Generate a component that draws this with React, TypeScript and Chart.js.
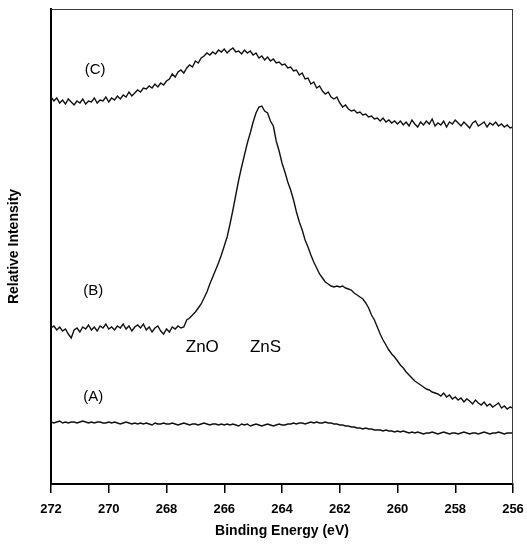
import React, { useEffect, useRef } from "react";
import { Chart, registerables } from "chart.js";

Chart.register(...registerables);

// Binding energy grid (eV), 0.1 eV steps
const energy = [
  272.0, 271.9, 271.8, 271.7, 271.6, 271.5, 271.4, 271.3, 271.2, 271.1,
  271.0, 270.9, 270.8, 270.7, 270.6, 270.5, 270.4, 270.3, 270.2, 270.1,
  270.0, 269.9, 269.8, 269.7, 269.6, 269.5, 269.4, 269.3, 269.2, 269.1,
  269.0, 268.9, 268.8, 268.7, 268.6, 268.5, 268.4, 268.3, 268.2, 268.1,
  268.0, 267.9, 267.8, 267.7, 267.6, 267.5, 267.4, 267.3, 267.2, 267.1,
  267.0, 266.9, 266.8, 266.7, 266.6, 266.5, 266.4, 266.3, 266.2, 266.1,
  266.0, 265.9, 265.8, 265.7, 265.6, 265.5, 265.4, 265.3, 265.2, 265.1,
  265.0, 264.9, 264.8, 264.7, 264.6, 264.5, 264.4, 264.3, 264.2, 264.1,
  264.0, 263.9, 263.8, 263.7, 263.6, 263.5, 263.4, 263.3, 263.2, 263.1,
  263.0, 262.9, 262.8, 262.7, 262.6, 262.5, 262.4, 262.3, 262.2, 262.1,
  262.0, 261.9, 261.8, 261.7, 261.6, 261.5, 261.4, 261.3, 261.2, 261.1,
  261.0, 260.9, 260.8, 260.7, 260.6, 260.5, 260.4, 260.3, 260.2, 260.1,
  260.0, 259.9, 259.8, 259.7, 259.6, 259.5, 259.4, 259.3, 259.2, 259.1,
  259.0, 258.9, 258.8, 258.7, 258.6, 258.5, 258.4, 258.3, 258.2, 258.1,
  258.0, 257.9, 257.8, 257.7, 257.6, 257.5, 257.4, 257.3, 257.2, 257.1,
  257.0, 256.9, 256.8, 256.7, 256.6, 256.5, 256.4, 256.3, 256.2, 256.1,
  256.0,
];

// Spectrum (C), offset trace
const spectrumC = [
  387, 383, 386, 381, 384, 380, 385, 382, 379, 383,
  381, 385, 380, 383, 382, 386, 381, 384, 383, 387,
  382, 386, 384, 388, 385, 389, 387, 392, 388, 391,
  394, 392, 396, 395, 398, 396, 400, 397, 401, 399,
  403, 405, 410, 407, 412, 414, 411, 416, 419, 417,
  423, 421, 426, 428, 431, 429, 432, 430, 434, 432,
  435, 431, 434, 436, 432, 433, 430, 434, 431, 433,
  429, 431, 426, 428, 424, 427, 423, 425, 421, 422,
  419, 420, 416, 417, 413, 414, 409, 411, 405, 406,
  400, 402, 396, 398, 393, 390, 392, 387, 385, 387,
  381, 377, 379, 375, 373, 374, 371, 372, 369, 370,
  367, 368, 365, 366, 363, 366, 362, 364, 361, 363,
  360, 363, 359, 362, 358, 364, 360, 357, 362, 359,
  363, 360, 365, 358, 361, 359, 363, 357, 362, 360,
  364, 361, 358, 362, 359, 356, 361, 363, 358, 360,
  362, 357, 361, 359, 362, 358, 360, 357, 359, 356,
  357,
];

// Spectrum (B)
const spectrumB = [
  156, 158, 154, 157, 153, 155, 150, 146, 154, 156,
  152, 157, 155, 159, 154, 157, 153, 158, 156, 160,
  155, 157, 154, 158, 156, 160, 155, 158, 153, 157,
  159, 156, 160, 154, 157, 152, 156, 158, 153, 150,
  155, 152, 157, 155, 158, 156, 157, 164, 166, 169,
  172, 176, 180, 186, 192, 200, 207, 214, 221, 229,
  238, 247, 260, 274, 289, 304, 317, 329, 341, 351,
  362, 371, 377, 378, 373, 371, 363, 358, 343, 333,
  321, 312, 302, 294, 284, 272, 262, 254, 244, 237,
  229, 222, 216, 210, 206, 202, 200, 198, 197, 198,
  197, 198, 196, 195, 194, 191, 189, 187, 185, 181,
  176, 169, 164, 157, 150, 144, 139, 134, 130, 127,
  123, 119, 116, 112, 109, 106, 103, 101, 99, 97,
  95, 94, 92, 91, 90, 88, 91, 87, 89, 85,
  87, 84, 86, 82, 85, 83, 80, 84, 81, 79,
  82, 78, 80, 77, 79, 81, 76, 78, 75, 77,
  76,
];

// Spectrum (A)
const spectrumA = [
  62, 61, 62, 63, 61, 62, 61, 62, 62, 61,
  62, 63, 62, 61, 62, 61, 62, 62, 61, 61,
  62, 61, 62, 61, 60, 61, 62, 61, 60, 61,
  60, 61, 60, 61, 60, 59, 61, 60, 60, 61,
  60, 60, 61, 60, 59, 60, 61, 60, 59, 60,
  60, 59, 60, 61, 60, 59, 60, 60, 59, 60,
  59, 60, 59, 60, 59, 58, 60, 59, 60, 58,
  59, 60, 59, 58, 59, 60, 59, 58, 59, 60,
  59, 59, 60, 60, 61, 60, 61, 61, 60, 61,
  62, 61, 62, 61, 61, 62, 61, 61, 60, 60,
  59, 59, 58, 58, 57, 57, 56, 56, 55, 56,
  55, 55, 54, 54, 54, 53, 54, 53, 53, 52,
  53, 52, 53, 52, 51, 52, 51, 52, 51, 50,
  51, 51, 52, 51, 50, 51, 52, 51, 50, 51,
  51, 50, 51, 52, 51, 50, 51, 51, 50, 51,
  52, 51, 50, 51, 51, 52, 51, 50, 51, 51,
  51,
];

// Text annotations placed in data coordinates
const annotationText = ["(C)", "(B)", "(A)", "ZnO", "ZnS"];
const annotationEnergy = [270.47, 270.54, 270.54, 266.76, 264.57];
const annotationLevel = [414, 193, 87, 137, 137];
const annotationSize = [15, 15, 15, 17, 17];

const FONT = "'Liberation Sans', Arial, Helvetica, sans-serif";

const toPoints = (ys: number[]) => ys.map((y, i) => ({ x: energy[i], y }));

const framePlugin = {
  id: "frameAndLabels",
  afterDatasetsDraw(chart: any) {
    const { ctx, chartArea, scales } = chart;
    ctx.save();
    ctx.strokeStyle = "#3a3a3a";
    ctx.lineWidth = 1;
    ctx.beginPath();
    ctx.moveTo(chartArea.left, chartArea.top + 0.5);
    ctx.lineTo(chartArea.right, chartArea.top + 0.5);
    ctx.moveTo(chartArea.right - 0.5, chartArea.top);
    ctx.lineTo(chartArea.right - 0.5, chartArea.bottom);
    ctx.stroke();

    ctx.fillStyle = "#000";
    ctx.textAlign = "center";
    ctx.textBaseline = "middle";
    annotationText.forEach((t, i) => {
      ctx.font = `${annotationSize[i]}px ${FONT}`;
      const px = scales.x.getPixelForValue(annotationEnergy[i]);
      const py = scales.y.getPixelForValue(annotationLevel[i]);
      ctx.fillText(t, px, py);
    });
    ctx.restore();
  },
};

export default function App() {
  const canvasRef = useRef<HTMLCanvasElement | null>(null);

  useEffect(() => {
    if (!canvasRef.current) return;
    const lineStyle = {
      borderColor: "#111",
      borderWidth: 1.4,
      pointRadius: 0,
      tension: 0,
      fill: false,
    };
    const chart = new Chart(canvasRef.current, {
      type: "line",
      data: {
        datasets: [
          { label: "(C)", data: toPoints(spectrumC), ...lineStyle },
          { label: "(B)", data: toPoints(spectrumB), ...lineStyle },
          { label: "(A)", data: toPoints(spectrumA), ...lineStyle },
        ],
      },
      options: {
        animation: false,
        responsive: false,
        maintainAspectRatio: false,
        layout: { padding: { top: 9, right: 14, left: 0, bottom: 0 } },
        plugins: {
          legend: { display: false },
          tooltip: { enabled: false },
        },
        scales: {
          x: {
            type: "linear",
            min: 256,
            max: 272,
            reverse: true,
            afterFit: (scale: any) => {
              scale.height = 62;
              scale.paddingLeft = 0;
              scale.paddingRight = 0;
            },
            ticks: {
              stepSize: 2,
              padding: 9,
              color: "#000",
              font: { family: FONT, size: 13, weight: "bold" },
            },
            grid: {
              display: true,
              drawOnChartArea: false,
              drawTicks: true,
              tickLength: 9,
              color: "#000",
              lineWidth: 1.5,
            },
            border: { display: true, color: "#000", width: 2 },
            title: {
              display: true,
              text: "Binding Energy (eV)",
              color: "#000",
              font: { family: FONT, size: 14, weight: "bold" },
              padding: { top: 0, bottom: 6 },
            },
          },
          y: {
            type: "linear",
            min: 0,
            max: 475,
            afterFit: (scale: any) => {
              scale.width = 51;
              scale.paddingTop = 0;
              scale.paddingBottom = 0;
            },
            ticks: { display: false },
            grid: { display: false },
            border: { display: true, color: "#000", width: 2 },
            title: {
              display: true,
              text: "Relative Intensity",
              color: "#000",
              font: { family: FONT, size: 14, weight: "bold" },
              padding: { top: 6, bottom: 0 },
            },
          },
        },
      },
      plugins: [framePlugin],
    });
    return () => chart.destroy();
  }, []);

  return (
    <div style={{ position: "absolute", left: 0, top: 0, width: 527, height: 546, background: "#fff" }}>
      <canvas ref={canvasRef} width={527} height={546} style={{ display: "block" }} />
    </div>
  );
}
